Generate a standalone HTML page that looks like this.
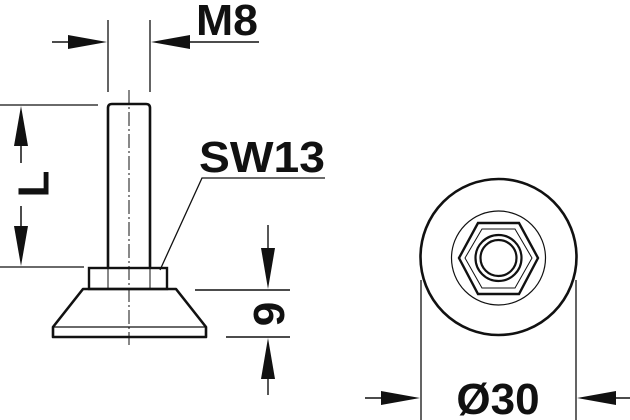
<!DOCTYPE html>
<html><head><style>html,body{margin:0;padding:0;background:#fff;width:630px;height:420px;overflow:hidden}</style></head>
<body>
<svg width="630" height="420" viewBox="0 0 630 420" xmlns="http://www.w3.org/2000/svg" font-family="Liberation Sans, sans-serif" font-weight="bold">
<g stroke="#111" fill="none">
<line x1="108" y1="20" x2="108" y2="92" stroke-width="1.3"/>
<line x1="150" y1="20" x2="150" y2="92" stroke-width="1.3"/>
<line x1="52" y1="42" x2="100" y2="42" stroke-width="1.5"/>
<line x1="158" y1="42" x2="259" y2="42" stroke-width="1.5"/>
<line x1="0" y1="105" x2="98" y2="105" stroke-width="1.3"/>
<line x1="0" y1="267" x2="84" y2="267" stroke-width="1.3"/>
<line x1="21" y1="130" x2="21" y2="163" stroke-width="1.5"/>
<line x1="21" y1="206" x2="21" y2="240" stroke-width="1.5"/>
<path d="M108 268 V108 Q108 104 112 104 H146 Q150 104 150 108 V268" stroke-width="2.6"/>
<line x1="129" y1="90" x2="129" y2="345" stroke-width="1" stroke-dasharray="14,3,2,3"/>
<rect x="89" y="268" width="78" height="21" stroke-width="2.4"/>
<line x1="108" y1="268" x2="108" y2="289" stroke-width="1"/>
<line x1="150" y1="268" x2="150" y2="289" stroke-width="1"/>
<path d="M83 289 H176 L206 327 V337 H53 V327 Z" stroke-width="2.6" stroke-linejoin="round"/>
<line x1="53" y1="327" x2="206" y2="327" stroke-width="1.2"/>
<polyline points="160,270 202,178 325,178" stroke-width="1.3"/>
<line x1="195" y1="290" x2="290" y2="290" stroke-width="1.4"/>
<line x1="226" y1="337" x2="290" y2="337" stroke-width="1.4"/>
<line x1="268" y1="225" x2="268" y2="250" stroke-width="1.4"/>
<line x1="268" y1="375" x2="268" y2="395" stroke-width="1.4"/>
<circle cx="498.5" cy="257" r="78" stroke-width="2.6"/>
<circle cx="498.5" cy="258" r="47" stroke-width="1.2"/>
<polygon points="459,258 478,223 519,223 538,258 519,294 478,294" stroke-width="2.4"/>
<polygon points="465,258 482,229 515,229 532,258 515,288 482,288" stroke-width="1"/>
<circle cx="498.5" cy="258" r="23" stroke-width="2.2"/>
<circle cx="498.5" cy="258" r="18" stroke-width="2.2"/>
<line x1="421" y1="280" x2="421" y2="420" stroke-width="1.3"/>
<line x1="576" y1="280" x2="576" y2="420" stroke-width="1.3"/>
<line x1="365" y1="398" x2="400" y2="398" stroke-width="1.5"/>
<line x1="597" y1="398" x2="630" y2="398" stroke-width="1.5"/>
</g>
<g fill="#111">
<polygon points="107,42 68,35 68,49"/>
<polygon points="151,42 190,35 190,49"/>
<polygon points="21,106 14,146 28,146"/>
<polygon points="21,266 14,226 28,226"/>
<polygon points="268,289 261,248 275,248"/>
<polygon points="268,338 261,379 275,379"/>
<polygon points="420,398 381,391 381,405"/>
<polygon points="577,398 616,391 616,405"/>
</g>
<text x="196" y="35" font-size="44" fill="#111" textLength="62" lengthAdjust="spacingAndGlyphs">M8</text>
<text x="199" y="172" font-size="44" fill="#111" textLength="126" lengthAdjust="spacingAndGlyphs">SW13</text>
<text x="0" y="0" font-size="44" fill="#111" transform="translate(37,184) rotate(-90)" text-anchor="middle" dominant-baseline="middle">L</text>
<text x="0" y="16" font-size="44" fill="#111" transform="translate(268,314) rotate(-90)" text-anchor="middle">9</text>
<text x="498" y="414" font-size="44" fill="#111" text-anchor="middle">Ø30</text>
</svg>
</body></html>
